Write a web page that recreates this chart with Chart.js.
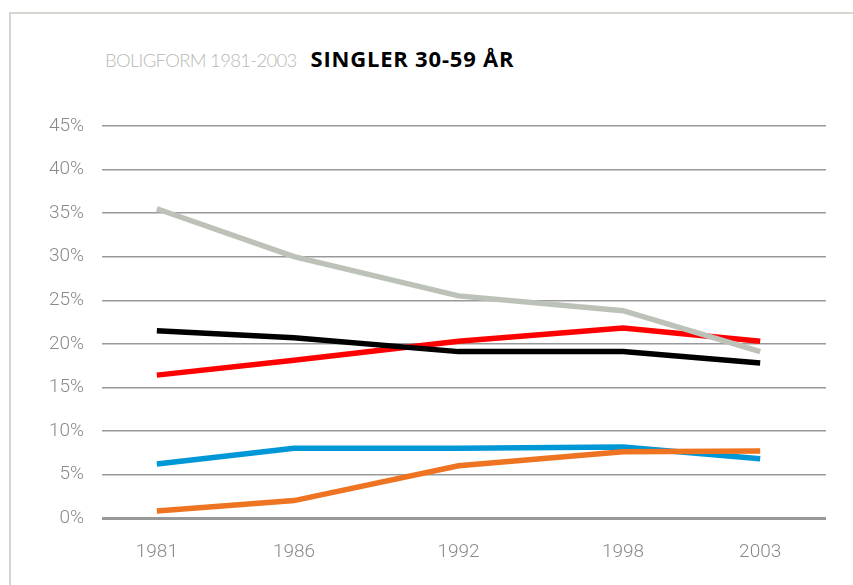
<!DOCTYPE html>
<html>
<head>
<meta charset="utf-8">
<script src="https://cdn.jsdelivr.net/npm/chart.js@4"></script>
<style>
    html, body { margin: 0; padding: 0; background: #fff; }
    #wrap { position: relative; width: 853px; height: 585px; overflow: hidden; }
    #frame { position: absolute; left: 9px; top: 12px; right: -5px; bottom: -5px; border: 2px solid #d3d7cf; }
    #title { position: absolute; left: 105px; top: 43px; white-space: nowrap; }
    #title .light { color: #b5bab2; font-family: Lato, sans-serif; font-weight: 300; font-size: 18.5px; letter-spacing: -0.7px; }
    #title .bold { color: #000; font-family: "Open Sans", sans-serif; font-weight: bold; font-size: 22px; letter-spacing: 0.8px; margin-left: 14px; }
    canvas { position: absolute; left: 0; top: 0; }
</style>
</head>
<body>
<div id="wrap">
    <div id="frame"></div>
    <div id="title"><span class="light">BOLIGFORM 1981-2003</span><span class="bold">SINGLER 30-59 ÅR</span></div>
    <canvas id="chart" width="853" height="585"></canvas>
</div>
<script>
// years on the x axis
const years = [1981, 1986, 1992, 1998, 2003];
const yTicks = [0, 5, 10, 15, 20, 25, 30, 35, 40, 45];

// series values (percent)
const grayValues = [35.5, 30.0, 25.5, 23.8, 19.1];
const blackValues = [21.5, 20.7, 19.1, 19.1, 17.8];
const redValues = [16.4, 18.1, 20.3, 21.8, 20.3];
const blueValues = [6.2, 8.0, 8.0, 8.15, 6.8];
const orangeValues = [0.8, 2.0, 6.0, 7.6, 7.7];

const toPoints = (vals) => vals.map((v, i) => ({ x: years[i], y: v }));

function line(vals, color) {
    return {
        data: toPoints(vals),
        borderColor: color,
        borderWidth: 5.5,
        pointRadius: 0,
        tension: 0,
        fill: false,
    };
}

const tickFont = { family: "Roboto", size: 19, weight: 300 };

new Chart(document.getElementById("chart"), {
    type: "line",
    data: {
        datasets: [
            line(grayValues, "#bcc2b8"),
            line(blackValues, "#000000"),
            line(redValues, "#ff0000"),
            line(orangeValues, "#ee7421"),
            line(blueValues, "#0097d7"),
        ],
    },
    options: {
        responsive: false,
        animation: false,
        layout: { padding: { top: 126, right: 27, left: 0, bottom: 0 } },
        plugins: { legend: { display: false }, tooltip: { enabled: false } },
        scales: {
            x: {
                type: "linear",
                min: 1979,
                max: 2005.4,
                afterBuildTicks: (axis) => { axis.ticks = years.map((v) => ({ value: v })); },
                afterFit: (axis) => { axis.height = 67; },
                grid: { display: false },
                border: { display: false },
                ticks: { color: "#8a8a8a", font: tickFont, padding: 15, callback: (v) => String(v) },
            },
            y: {
                min: 0,
                max: 45,
                afterBuildTicks: (axis) => { axis.ticks = yTicks.map((v) => ({ value: v })); },
                afterFit: (axis) => { axis.width = 102; },
                grid: {
                    drawTicks: false,
                    color: "#999999",
                    lineWidth: (ctx) => (ctx.tick && ctx.tick.value === 0 ? 3 : 1.4),
                },
                border: { display: false },
                ticks: { color: "#8a8a8a", font: tickFont, padding: 18, callback: (v) => v + "%" },
            },
        },
    },
});
</script>
</body>
</html>
